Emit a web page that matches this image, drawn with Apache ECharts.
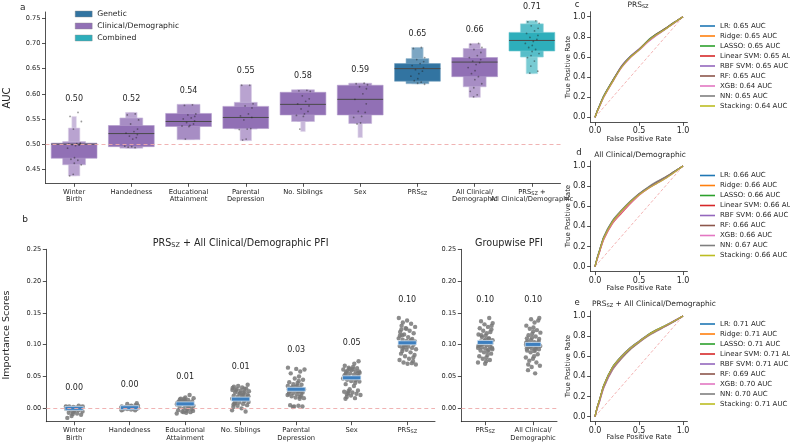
<!DOCTYPE html>
<html><head><meta charset="utf-8">
<script src="https://cdn.jsdelivr.net/npm/echarts@6/dist/echarts.min.js"></script>
<style>html,body{margin:0;padding:0;background:#fff}#c{width:790px;height:442px}</style>
</head><body><div id="c"></div>
<script>
// ---------- Panel a: AUC boxen plots ----------
const aCategories = ['Winter\nBirth','Handedness','Educational\nAttainment','Parental\nDepression','No. Siblings','Sex','PRS_SZ','All Clinical/\nDemographic','PRS_SZ +\nAll Clinical/Demographic'];
const aGroup = ['Clinical/Demographic','Clinical/Demographic','Clinical/Demographic','Clinical/Demographic','Clinical/Demographic','Clinical/Demographic','Genetic','Clinical/Demographic','Combined'];
const aMeanLabels = [0.50,0.52,0.54,0.55,0.58,0.59,0.65,0.66,0.71];
const aMedian = [0.500,0.521,0.545,0.553,0.579,0.589,0.650,0.663,0.706];
const aLo0 = [0.472,0.495,0.535,0.531,0.558,0.558,0.625,0.634,0.685];
const aHi0 = [0.502,0.537,0.561,0.575,0.603,0.617,0.660,0.672,0.722];
const aLo1 = [0.459,0.492,0.509,0.530,0.545,0.541,0.620,0.614,0.673];
const aHi1 = [0.505,0.552,0.579,0.583,0.608,0.621,0.670,0.690,0.739];
const aLo2 = [0.437,0.492,0.509,0.507,0.545,0.541,0.620,0.593,0.640];
const aHi2 = [0.532,0.563,0.579,0.618,0.608,0.621,0.692,0.700,0.745];
const aLo3 = [0.437,0.492,0.509,0.507,0.525,0.513,0.620,0.593,0.640];
const aHi3 = [0.555,0.563,0.579,0.618,0.608,0.621,0.692,0.700,0.745];
const aPoints = [
  [0.563,0.555,0.545,0.530,0.502,0.501,0.500,0.500,0.499,0.498,0.497,0.492,0.473,0.470,0.468,0.462,0.459,0.440,0.437],
  [0.560,0.558,0.548,0.540,0.530,0.525,0.522,0.519,0.516,0.513,0.510,0.496,0.495,0.494,0.493],
  [0.578,0.577,0.560,0.558,0.555,0.552,0.550,0.546,0.543,0.540,0.537,0.536,0.535,0.510],
  [0.617,0.617,0.580,0.576,0.572,0.560,0.556,0.553,0.548,0.531,0.530,0.529,0.510,0.508],
  [0.607,0.606,0.605,0.596,0.590,0.585,0.580,0.576,0.570,0.565,0.560,0.557,0.555,0.530],
  [0.621,0.620,0.618,0.614,0.610,0.600,0.589,0.580,0.565,0.563,0.555,0.553,0.542,0.540],
  [0.692,0.690,0.672,0.668,0.664,0.660,0.656,0.652,0.648,0.645,0.640,0.635,0.630,0.626,0.623,0.621,0.619],
  [0.700,0.698,0.692,0.688,0.682,0.676,0.672,0.668,0.665,0.662,0.658,0.652,0.646,0.640,0.634,0.628,0.620,0.612,0.605,0.598,0.594],
  [0.745,0.743,0.740,0.735,0.730,0.725,0.720,0.716,0.712,0.708,0.704,0.700,0.696,0.692,0.688,0.684,0.680,0.676,0.672,0.665,0.655,0.645,0.641]
];
const aYTicks = [0.45,0.50,0.55,0.60,0.65,0.70,0.75];

// ---------- Panel b: permutation feature importance ----------
const bCategories = ['Winter\nBirth','Handedness','Educational\nAttainment','No. Siblings','Parental\nDepression','Sex','PRS_SZ'];
const bMeans = [0.000,0.001,0.007,0.0145,0.030,0.048,0.103];
const bPoints = [
  [0.004,0.003,0.003,0.002,0.002,0.001,0.001,0.000,0.000,0.000,-0.001,-0.001,-0.002,-0.002,-0.003,-0.004,-0.005,-0.006,-0.007,-0.008,-0.009,-0.010,-0.012,-0.015,0.001,0.002,0.000,-0.001,0.003,0.000],
  [0.008,0.007,0.005,0.004,0.003,0.003,0.002,0.002,0.001,0.001,0.001,0.000,0.000,0.000,-0.001,-0.001,-0.002,-0.002,-0.003,-0.003,0.002,0.001,0.000,0.004,-0.001],
  [0.021,0.017,0.016,0.015,0.014,0.013,0.012,0.011,0.010,0.010,0.009,0.008,0.008,0.007,0.006,0.005,0.004,0.003,0.002,0.001,0.000,-0.001,-0.002,-0.003,-0.004,-0.005,-0.006,-0.007,-0.008,0.012,0.015,0.009,0.011,-0.004,-0.006],
  [0.037,0.035,0.034,0.033,0.032,0.031,0.030,0.029,0.028,0.027,0.026,0.025,0.024,0.023,0.022,0.021,0.020,0.019,0.018,0.017,0.016,0.015,0.014,0.013,0.012,0.011,0.010,0.009,0.008,0.007,0.006,0.005,0.004,0.002,0.000,-0.003,-0.005,0.028,0.031,0.024,0.019,0.012,0.008],
  [0.064,0.062,0.061,0.058,0.055,0.050,0.047,0.045,0.043,0.041,0.040,0.038,0.037,0.036,0.035,0.034,0.033,0.032,0.031,0.030,0.029,0.028,0.027,0.026,0.025,0.024,0.023,0.022,0.021,0.020,0.019,0.018,0.017,0.016,0.015,0.005,0.004,0.003,0.003,0.002,0.030,0.027,0.033,0.025],
  [0.074,0.070,0.067,0.065,0.064,0.063,0.062,0.061,0.060,0.059,0.058,0.057,0.056,0.055,0.054,0.053,0.052,0.051,0.050,0.049,0.048,0.047,0.046,0.045,0.044,0.043,0.042,0.040,0.038,0.035,0.030,0.028,0.027,0.026,0.025,0.024,0.023,0.022,0.021,0.020,0.018,0.016,0.015,0.058,0.062,0.055],
  [0.142,0.138,0.135,0.133,0.130,0.128,0.126,0.124,0.122,0.120,0.118,0.116,0.114,0.112,0.110,0.109,0.108,0.107,0.106,0.105,0.104,0.103,0.102,0.101,0.100,0.099,0.098,0.097,0.096,0.095,0.094,0.093,0.092,0.090,0.088,0.086,0.084,0.082,0.080,0.078,0.076,0.074,0.072,0.071,0.070,0.069,0.125,0.115,0.105,0.100]
];
const gCategories = ['PRS_SZ','All Clinical/\nDemographic'];
const gMeans = [0.1036,0.1005];
const gPoints = [
  [0.142,0.137,0.134,0.132,0.130,0.128,0.126,0.124,0.122,0.120,0.118,0.116,0.114,0.112,0.110,0.108,0.107,0.106,0.105,0.104,0.103,0.102,0.101,0.100,0.099,0.098,0.097,0.096,0.095,0.094,0.093,0.092,0.091,0.090,0.088,0.086,0.084,0.082,0.080,0.078,0.076,0.074,0.072,0.070,0.115,0.110,0.100,0.095],
  [0.142,0.140,0.138,0.135,0.130,0.127,0.125,0.123,0.121,0.119,0.117,0.115,0.113,0.111,0.109,0.107,0.105,0.104,0.103,0.102,0.101,0.100,0.099,0.098,0.097,0.096,0.095,0.094,0.093,0.092,0.091,0.090,0.088,0.085,0.082,0.080,0.078,0.075,0.072,0.069,0.067,0.065,0.060,0.055,0.110,0.105,0.098,0.094]
];
const bYTicks = [0.00,0.05,0.10,0.15,0.20,0.25];

// ---------- Panels c, d, e: ROC curves ----------
const rocModels = ['LR','Ridge','LASSO','Linear SVM','RBF SVM','RF','XGB','NN','Stacking'];
const rocFpr = [0,0.025,0.05,0.1,0.2,0.3,0.4,0.5,0.6,0.7,0.8,0.9,1];
const rocAucC = [0.65,0.65,0.65,0.65,0.65,0.65,0.64,0.65,0.64];
const rocAucD = [0.66,0.66,0.66,0.66,0.66,0.66,0.66,0.67,0.66];
const rocAucE = [0.71,0.71,0.71,0.71,0.71,0.69,0.70,0.70,0.71];
const rocTprC = [
  [0,0.06,0.11,0.21,0.36,0.50,0.60,0.67,0.76,0.825,0.88,0.94,1],
  [0,0.06,0.11,0.21,0.36,0.50,0.60,0.675,0.76,0.825,0.88,0.94,1],
  [0,0.065,0.115,0.215,0.365,0.505,0.605,0.675,0.765,0.83,0.885,0.945,1],
  [0,0.06,0.11,0.205,0.355,0.495,0.595,0.67,0.755,0.82,0.88,0.94,1],
  [0,0.055,0.105,0.205,0.36,0.51,0.605,0.68,0.75,0.815,0.875,0.945,1],
  [0,0.06,0.11,0.21,0.365,0.505,0.60,0.675,0.76,0.83,0.885,0.945,1],
  [0,0.055,0.10,0.20,0.35,0.49,0.59,0.665,0.745,0.815,0.875,0.935,1],
  [0,0.06,0.115,0.215,0.36,0.50,0.60,0.67,0.76,0.825,0.88,0.94,1],
  [0,0.055,0.105,0.205,0.355,0.495,0.595,0.67,0.755,0.82,0.875,0.94,1]
];
const rocTprD = [
  [0,0.08,0.15,0.29,0.45,0.55,0.64,0.72,0.78,0.83,0.88,0.94,1],
  [0,0.08,0.15,0.29,0.45,0.55,0.64,0.72,0.78,0.835,0.885,0.94,1],
  [0,0.085,0.155,0.295,0.455,0.555,0.645,0.72,0.785,0.835,0.885,0.945,1],
  [0,0.075,0.14,0.27,0.43,0.53,0.625,0.71,0.775,0.83,0.88,0.94,1],
  [0,0.08,0.15,0.285,0.445,0.55,0.64,0.72,0.78,0.83,0.88,0.94,1],
  [0,0.085,0.155,0.29,0.45,0.555,0.645,0.725,0.785,0.84,0.89,0.945,1],
  [0,0.07,0.14,0.275,0.435,0.54,0.63,0.71,0.775,0.825,0.875,0.935,1],
  [0,0.09,0.16,0.30,0.46,0.56,0.65,0.725,0.79,0.845,0.89,0.945,1],
  [0,0.08,0.15,0.285,0.445,0.55,0.64,0.715,0.775,0.825,0.875,0.935,1]
];
const rocTprE = [
  [0,0.09,0.16,0.31,0.49,0.595,0.68,0.745,0.81,0.86,0.905,0.95,1],
  [0,0.09,0.16,0.31,0.49,0.595,0.68,0.745,0.81,0.86,0.90,0.95,1],
  [0,0.095,0.165,0.315,0.495,0.60,0.685,0.75,0.815,0.865,0.905,0.95,1],
  [0,0.09,0.16,0.305,0.485,0.59,0.675,0.745,0.81,0.86,0.90,0.95,1],
  [0,0.09,0.16,0.31,0.49,0.60,0.685,0.75,0.81,0.86,0.905,0.955,1],
  [0,0.08,0.145,0.29,0.465,0.575,0.665,0.735,0.80,0.85,0.895,0.945,1],
  [0,0.075,0.14,0.285,0.47,0.585,0.675,0.74,0.805,0.855,0.90,0.945,1],
  [0,0.085,0.15,0.295,0.475,0.585,0.67,0.74,0.805,0.855,0.90,0.945,1],
  [0,0.09,0.16,0.31,0.49,0.595,0.68,0.745,0.81,0.86,0.905,0.95,1]
];
const rocXTicks = [0,0.5,1];
const rocYTicks = [0,0.2,0.4,0.6,0.8,1];

// ---------- styling ----------
const F = 'DejaVu Sans';
const INK = '#262626';
const groupColors = {'Genetic':'#3274a1','Clinical/Demographic':'#9170b5','Combined':'#2eaebb'};
const rocColors = ['#1f77b4','#ff7f0e','#2ca02c','#d62728','#9467bd','#8c564b','#e377c2','#7f7f7f','#bcbd22'];
function mixWhite(hex, t){
  const n = parseInt(hex.slice(1),16);
  const r=(n>>16)&255,g=(n>>8)&255,b=n&255;
  const f=c=>Math.round(c+(255-c)*t);
  return 'rgb('+f(r)+','+f(g)+','+f(b)+')';
}
// deterministic strip-plot spread (position only, in [-0.5, 0.5])
function spread(j){ return ((Math.imul(j+1, 2654435761) >>> 0) % 1000) / 999 - 0.5; }
const levelMix = [0,0.2,0.36,0.5];
const levelWidth = [0.8,0.4,0.2,0.08];
const subRich = {s:{fontSize:5,fontFamily:F,color:INK,padding:[3,0,0,0]}};
function fmtSub(v){ return v.replace(/_SZ/g,'{s|SZ}'); }

const axLine = {show:true, onZero:false, lineStyle:{color:INK, width:0.8}};
function axTick(extra){ return Object.assign({show:true, length:3.5, lineStyle:{color:INK, width:0.8}}, extra||{}); }
function catX(grid, data){
  return {gridIndex:grid, type:'category', data:data, boundaryGap:true, axisLine:axLine,
    axisTick:axTick({alignWithLabel:true, interval:0}),
    axisLabel:{interval:0, fontSize:6.75, lineHeight:7.6, color:INK, margin:5, fontFamily:F, formatter:fmtSub, rich:subRich},
    splitLine:{show:false}};
}
function valY(grid, min, max, ticks, dec, fs){
  return {gridIndex:grid, type:'value', min:min, max:max, axisLine:axLine,
    axisTick:axTick({customValues:ticks}),
    axisLabel:{customValues:ticks, formatter:v=>v.toFixed(dec), fontSize:fs, color:INK, margin:5, fontFamily:F},
    splitLine:{show:false}};
}
function valX(grid, ticks){
  return {gridIndex:grid, type:'value', min:-0.05, max:1.05, axisLine:axLine,
    axisTick:axTick({customValues:ticks}),
    axisLabel:{customValues:ticks, formatter:v=>v.toFixed(1), fontSize:8, color:INK, margin:5, fontFamily:F},
    splitLine:{show:false}};
}

const dashLine = (val, col)=>({silent:true, symbol:'none', label:{show:false},
  lineStyle:{color:col, type:[4,3], width:0.9, opacity:1}, emphasis:{disabled:true}, data:[{yAxis:val}]});

// boxen series (one per group)
const series = [];
const groupsOrder = ['Genetic','Clinical/Demographic','Combined'];
groupsOrder.forEach((g,gi)=>{
  const base = groupColors[g];
  const data = [];
  aCategories.forEach((c,i)=>{
    if (aGroup[i]!==g) return;
    const top = Math.max(aHi3[i], Math.max.apply(null, aPoints[i]));
    data.push([i,aLo0[i],aHi0[i],aLo1[i],aHi1[i],aLo2[i],aHi2[i],aLo3[i],aHi3[i],aMedian[i],top,aMeanLabels[i]]);
  });
  const s = {
    type:'custom', name:g, xAxisIndex:0, yAxisIndex:0, itemStyle:{color:base}, z:2,
    data:data,
    renderItem:function(params, api){
      const i = api.value(0);
      const band = api.size([1,0])[0];
      const ch = [];
      for (let k=3;k>=0;k--){
        const lo=api.value(1+2*k), hi=api.value(2+2*k);
        const p1=api.coord([i,hi]), p0=api.coord([i,lo]);
        const w=band*levelWidth[k];
        ch.push({type:'rect', shape:{x:p1[0]-w/2, y:p1[1], width:w, height:Math.max(0.5,p0[1]-p1[1])},
          style:{fill:mixWhite(base, levelMix[k]), stroke:mixWhite(base, Math.min(0.75, levelMix[k]+0.3)), lineWidth:0.6}});
      }
      const pm = api.coord([i, api.value(9)]);
      const w0 = band*levelWidth[0];
      ch.push({type:'line', shape:{x1:pm[0]-w0/2, y1:pm[1], x2:pm[0]+w0/2, y2:pm[1]}, style:{stroke:'#4a4a4a', lineWidth:1}});
      const pt = api.coord([i, api.value(10)]);
      ch.push({type:'text', x:pt[0], y:pt[1]-13.5, style:{text:api.value(11).toFixed(2), fontSize:8, fontFamily:F, fill:INK, align:'center', verticalAlign:'middle'}});
      return {type:'group', children:ch};
    }
  };
  if (gi===0) s.markLine = dashLine(0.5, '#eeaaaa');
  series.push(s);
});
// strip points in panel a
const aStripData = [];
aPoints.forEach((arr,i)=>arr.forEach((v,j)=>aStripData.push([i,v,j])));
series.push({type:'custom', name:'aStrip', xAxisIndex:0, yAxisIndex:0, z:3, silent:true, data:aStripData,
  renderItem:function(params, api){
    const i=api.value(0), j=api.value(2);
    const band=api.size([1,0])[0];
    const p=api.coord([i, api.value(1)]);
    const off=spread(j)*0.26*band;
    return {type:'circle', shape:{cx:p[0]+off, cy:p[1], r:0.9}, style:{fill:'rgba(30,30,30,0.45)'}};
  }});

// PFI panels
function pfiSeries(grid, points, means){
  const pData=[];
  points.forEach((arr,i)=>arr.forEach((v,j)=>pData.push([i,v,j])));
  series.push({type:'custom', name:'pfiPts'+grid, xAxisIndex:grid, yAxisIndex:grid, z:2, silent:true, data:pData,
    renderItem:function(params, api){
      const i=api.value(0), j=api.value(2);
      const band=api.size([1,0])[0];
      const p=api.coord([i, api.value(1)]);
      const off=spread(j+7*i)*0.32*band;
      return {type:'circle', shape:{cx:p[0]+off, cy:p[1], r:2.2}, style:{fill:'rgba(120,120,120,0.85)'}};
    }});
  const mData = means.map((m,i)=>[i,m,Math.max.apply(null, points[i])]);
  series.push({type:'custom', name:'pfiMean'+grid, xAxisIndex:grid, yAxisIndex:grid, z:4, silent:true, data:mData,
    markLine: dashLine(0, '#eeaaaa'),
    renderItem:function(params, api){
      const i=api.value(0);
      const band=api.size([1,0])[0];
      const p=api.coord([i, api.value(1)]);
      const pt=api.coord([i, api.value(2)]);
      const w=band*0.33;
      return {type:'group', children:[
        {type:'rect', shape:{x:p[0]-w/2, y:p[1]-2, width:w, height:4}, style:{fill:'#3d7fbf', stroke:'rgba(220,235,250,0.9)', lineWidth:0.8}},
        {type:'text', x:pt[0], y:pt[1]-18, style:{text:api.value(1).toFixed(2), fontSize:8, fontFamily:F, fill:INK, align:'center', verticalAlign:'middle'}}
      ]};
    }});
}
pfiSeries(1, bPoints, bMeans);
pfiSeries(2, gPoints, gMeans);

// ROC panels
const rocSets = [[rocTprC,rocAucC],[rocTprD,rocAucD],[rocTprE,rocAucE]];
const rocLegendNames = [[],[],[]];
rocSets.forEach((set,p)=>{
  const grid = 3+p;
  series.push({type:'line', name:'diag'+p, xAxisIndex:grid, yAxisIndex:grid, data:[[0,0],[1,1]], showSymbol:false, silent:true,
    lineStyle:{color:'#f0a0a0', type:[3,2], width:0.8}, z:1});
  rocModels.forEach((m,k)=>{
    const nm = m+': '+set[1][k].toFixed(2)+' AUC';
    rocLegendNames[p].push(nm);
    series.push({type:'line', name:nm, xAxisIndex:grid, yAxisIndex:grid, color:rocColors[k],
      data:rocFpr.map((x,q)=>[x, set[0][k][q]]), showSymbol:false, smooth:0.25,
      lineStyle:{width:1.2, opacity:0.8}, z:2+k});
  });
});

const rocGridTops = [11.7, 161, 311];
const grids = [
  {left:45.5, top:12, width:515, height:171.3},
  {left:46.3, top:249.3, width:388.7, height:172.4},
  {left:461.3, top:249.3, width:95.7, height:172.4}
].concat(rocGridTops.map(t=>({left:590.6, top:t, width:96.8, height:110.6})));

const xAxes = [catX(0,aCategories), catX(1,bCategories), catX(2,gCategories), valX(3,rocXTicks), valX(4,rocXTicks), valX(5,rocXTicks)];
const yAxes = [valY(0,0.4222,0.7625,aYTicks,2,6.6), valY(1,-0.021,0.25,bYTicks,2,6.6), valY(2,-0.021,0.25,bYTicks,2,6.6),
  valY(3,-0.05,1.05,rocYTicks,1,8), valY(4,-0.05,1.05,rocYTicks,1,8), valY(5,-0.05,1.05,rocYTicks,1,8)];

const legends = [
  {data:groupsOrder, left:70, top:4.5, orient:'vertical', icon:'rect', itemWidth:17, itemHeight:6, itemGap:3,
   textStyle:{fontSize:7.7, lineHeight:9, color:INK, fontFamily:F}, itemStyle:{borderColor:'#888', borderWidth:0.4}, selectedMode:false}
].concat(rocLegendNames.map((names,p)=>({data:names, left:695, top:[17,166.5,315][p], orient:'vertical', icon:'rect',
  itemWidth:15, itemHeight:1.6, itemGap:2, textStyle:{fontSize:7, lineHeight:8, color:INK, fontFamily:F}, selectedMode:false})));

function T(text, x, y, fs, opts){
  return Object.assign({type:'text', x:x, y:y, silent:true, style:{text:text, fontSize:fs, fontFamily:F, fill:INK, align:'center', verticalAlign:'middle', rich:{s:{fontSize:fs*0.68, fontFamily:F, fill:INK, padding:[fs*0.4,0,0,0]}}}}, opts||{});
}
function TL(text, x, y, fs){ const t=T(text,x,y,fs); t.style.align='left'; return t; }
function TR(text, x, y, fs){ const t=T(text,x,y,fs,{rotation:Math.PI/2}); return t; }

const graphics = [
  T('a', 22.7, 8, 9), T('b', 25, 220, 9), T('c', 577, 5, 8.5), T('d', 579, 153, 8.5), T('e', 577, 303, 8.5),
  TR('AUC', 7, 98, 10), TR('Importance Scores', 7, 335, 9.5),
  T('PRS{s|SZ} + All Clinical/Demographic PFI', 240.6, 243, 9.6), T('Groupwise PFI', 509, 243, 9.6),
  T('PRS{s|SZ}', 638, 5, 7.5), T('All Clinical/Demographic', 640, 155, 7.5), TL('PRS{s|SZ} + All Clinical/Demographic', 592, 304, 7.5),
  TR('True Positive Rate', 568.3, 67, 7), TR('True Positive Rate', 568.3, 216, 7), TR('True Positive Rate', 568.3, 366, 7),
  T('False Positive Rate', 639, 138.7, 7), T('False Positive Rate', 639, 288.2, 7), T('False Positive Rate', 639, 437.5, 7)
];

const chart = echarts.init(document.getElementById('c'), null, {renderer:'canvas'});
chart.setOption({
  animation:false, backgroundColor:'#fff',
  textStyle:{fontFamily:F},
  grid:grids, xAxis:xAxes, yAxis:yAxes, legend:legends, series:series, graphic:graphics
});
</script></body></html>
